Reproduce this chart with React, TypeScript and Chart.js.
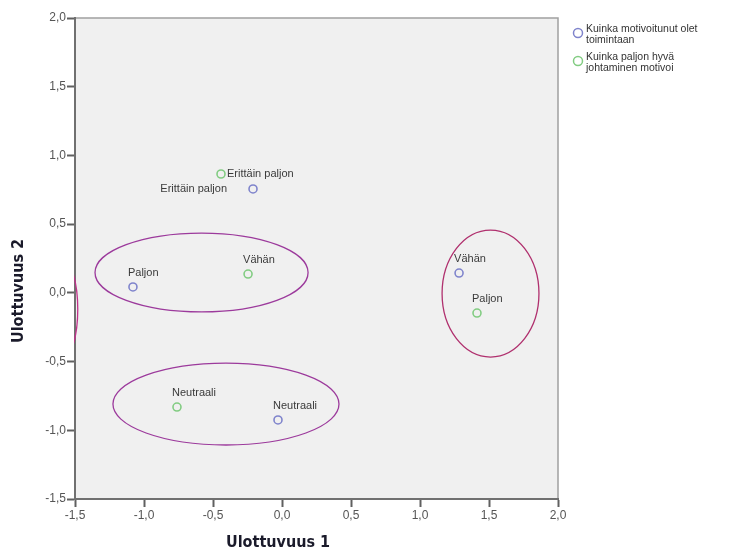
import React, { useEffect, useRef } from "react";
import { Chart, registerables } from "chart.js";

Chart.register(...registerables);

// ---- data ----
const seriesNames = ["Kuinka motivoitunut olet toimintaan", "Kuinka paljon hyvä johtaminen motivoi"];
const legendLines = [
  ["Kuinka motivoitunut olet", "toimintaan"],
  ["Kuinka paljon hyvä", "johtaminen motivoi"],
];

const blueLabels = ["Erittäin paljon", "Paljon", "Vähän", "Neutraali"];
const blueX = [-0.21, -1.08, 1.283, -0.029];
const blueY = [0.756, 0.043, 0.144, -0.925];

const greenLabels = ["Erittäin paljon", "Vähän", "Paljon", "Neutraali"];
const greenX = [-0.442, -0.246, 1.413, -0.761];
const greenY = [0.865, 0.137, -0.147, -0.831];

const ellipseCX = [-0.583, 1.511, -0.406, -1.62];
const ellipseCY = [0.148, -0.005, -0.809, -0.12];
const ellipseRX = [0.772, 0.351, 0.819, 0.14];
const ellipseRY = [0.287, 0.462, 0.298, 0.4];

const axisMin = -1.5;
const axisMax = 2.0;
const axisStep = 0.5;
const xTitle = "Ulottuvuus 1";
const yTitle = "Ulottuvuus 2";

// ---- styles ----
const BLUE = "#7f84cc";
const GREEN = "#82cc82";
const ellipseColors = ["#9c3a9c", "#b0306e", "#9c3a9c", "#c0308a"];
const blueLabelPlace = ["left", "above", "above", "above"];
const greenLabelPlace = ["right", "above", "above", "above"];
const FONT = "'Liberation Sans', Arial, sans-serif";

const fmt = (v: number) => v.toFixed(1).replace(".", ",");

export default function App() {
  const ref = useRef<HTMLCanvasElement | null>(null);

  useEffect(() => {
    if (!ref.current) return;

    const bgPlugin = {
      id: "bg",
      beforeDraw(chart: any) {
        const { ctx, chartArea: a } = chart;
        ctx.save();
        ctx.fillStyle = "#ffffff";
        ctx.fillRect(0, 0, chart.width, chart.height);
        ctx.fillStyle = "#f0f0f0";
        ctx.fillRect(a.left, a.top, a.right - a.left, a.bottom - a.top);
        ctx.strokeStyle = "#a0a0a0";
        ctx.lineWidth = 1.5;
        ctx.beginPath();
        ctx.moveTo(a.left, a.top);
        ctx.lineTo(a.right, a.top);
        ctx.lineTo(a.right, a.bottom);
        ctx.stroke();
        ctx.restore();
      },
    };

    const overlayPlugin = {
      id: "overlay",
      afterDatasetsDraw(chart: any) {
        const { ctx, chartArea: a, scales } = chart;
        const xs = scales.x;
        const ys = scales.y;
        // ellipses
        ctx.save();
        ctx.beginPath();
        ctx.rect(a.left - 1, a.top, a.right - a.left + 1, a.bottom - a.top);
        ctx.clip();
        for (let i = 0; i < ellipseCX.length; i++) {
          const cx = xs.getPixelForValue(ellipseCX[i]);
          const cy = ys.getPixelForValue(ellipseCY[i]);
          const rx = Math.abs(xs.getPixelForValue(ellipseCX[i] + ellipseRX[i]) - cx);
          const ry = Math.abs(ys.getPixelForValue(ellipseCY[i] + ellipseRY[i]) - cy);
          ctx.strokeStyle = ellipseColors[i];
          ctx.lineWidth = 1.3;
          ctx.beginPath();
          ctx.ellipse(cx, cy, rx, ry, 0, 0, Math.PI * 2);
          ctx.stroke();
        }
        ctx.restore();

        // point labels
        ctx.save();
        ctx.font = `11px ${FONT}`;
        ctx.fillStyle = "#3a3a3a";
        ctx.textBaseline = "middle";
        const drawLabels = (labels: string[], X: number[], Y: number[], place: string[]) => {
          labels.forEach((t, i) => {
            const px = xs.getPixelForValue(X[i]);
            const py = ys.getPixelForValue(Y[i]);
            if (place[i] === "left") {
              ctx.textAlign = "right";
              ctx.fillText(t, px - 26, py);
            } else if (place[i] === "right") {
              ctx.textAlign = "left";
              ctx.fillText(t, px + 6, py);
            } else {
              ctx.textAlign = "left";
              ctx.fillText(t, px - 5, py - 14);
            }
          });
        };
        drawLabels(blueLabels, blueX, blueY, blueLabelPlace);
        drawLabels(greenLabels, greenX, greenY, greenLabelPlace);
        ctx.restore();

        // legend
        ctx.save();
        const legendColors = [BLUE, GREEN];
        const legendY = [33, 61];
        ctx.font = `10.5px ${FONT}`;
        ctx.fillStyle = "#333333";
        ctx.textBaseline = "middle";
        ctx.textAlign = "left";
        legendLines.forEach((lines, i) => {
          ctx.strokeStyle = legendColors[i];
          ctx.lineWidth = 1.5;
          ctx.beginPath();
          ctx.arc(578, legendY[i], 4.5, 0, Math.PI * 2);
          ctx.stroke();
          lines.forEach((ln, j) => {
            ctx.fillText(ln, 586, legendY[i] - 4 + j * 11);
          });
        });
        ctx.restore();

        // axis titles
        ctx.save();
        ctx.fillStyle = "#1a1a2a";
        ctx.font = `bold 16px 'Liberation Sans Narrow', 'DejaVu Sans Condensed', ${FONT}`;
        ctx.textAlign = "center";
        ctx.textBaseline = "middle";
        ctx.fillText(xTitle, 278, 543);
        ctx.translate(19, 291);
        ctx.rotate(-Math.PI / 2);
        ctx.fillText(yTitle, 0, 0);
        ctx.restore();
      },
    };

    const tickOpts = {
      color: "#555555",
      font: { family: FONT, size: 12 },
      stepSize: axisStep,
      callback: (v: any) => fmt(Number(v)),
    };

    const chart = new Chart(ref.current, {
      type: "scatter",
      data: {
        datasets: [
          {
            label: seriesNames[0],
            data: blueX.map((x, i) => ({ x, y: blueY[i] })),
            borderColor: BLUE,
            backgroundColor: "rgba(0,0,0,0)",
            pointRadius: 4,
            pointBorderWidth: 1.6,
          },
          {
            label: seriesNames[1],
            data: greenX.map((x, i) => ({ x, y: greenY[i] })),
            borderColor: GREEN,
            backgroundColor: "rgba(0,0,0,0)",
            pointRadius: 4,
            pointBorderWidth: 1.6,
          },
        ],
      },
      options: {
        animation: false,
        responsive: false,
        maintainAspectRatio: false,
        layout: { padding: { top: 18, right: 175, left: 0, bottom: 0 } },
        plugins: { legend: { display: false }, tooltip: { enabled: false } },
        scales: {
          x: {
            type: "linear",
            min: axisMin,
            max: axisMax,
            ticks: { ...tickOpts, padding: 1 },
            grid: { drawOnChartArea: false, tickLength: 8, tickColor: "#606060", tickWidth: 2 },
            border: { color: "#707070", width: 2 },
            afterFit: (s: any) => {
              s.height = 53;
            },
          },
          y: {
            type: "linear",
            min: axisMin,
            max: axisMax,
            ticks: { ...tickOpts, padding: 1 },
            grid: { drawOnChartArea: false, tickLength: 8, tickColor: "#606060", tickWidth: 2 },
            border: { color: "#707070", width: 2 },
            afterFit: (s: any) => {
              s.width = 75;
            },
          },
        },
      },
      plugins: [bgPlugin, overlayPlugin],
    });
    return () => chart.destroy();
  }, []);

  return (
    <div style={{ position: "fixed", left: 0, top: 0, width: 733, height: 552, background: "#fff" }}>
      <canvas ref={ref} width={733} height={552} style={{ width: 733, height: 552 }} />
    </div>
  );
}
